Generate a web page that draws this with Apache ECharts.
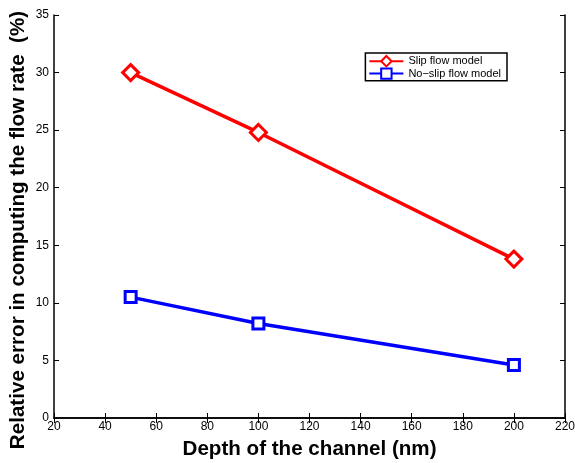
<!DOCTYPE html>
<html><head><meta charset="utf-8">
<script src="https://cdn.jsdelivr.net/npm/echarts@6/dist/echarts.min.js"></script>
<style>html,body{margin:0;padding:0;background:#fff}#c{width:575px;height:463px}</style>
</head><body><div id="c"></div>
<script>
const depth = [50, 100, 200];
const slipError = [30.0, 24.8, 13.8];
const noSlipError = [10.5, 8.2, 4.6];
const seriesNames = ['Slip flow model', 'No\u2212slip flow model'];
const xTitle = 'Depth of the channel (nm)';
const yTitle = 'Relative error in computing the flow rate  (%)';

const F = 'Liberation Sans, Arial, Helvetica, sans-serif';
const axisCommon = {
  axisLine: {show: true, lineStyle: {color: '#000', width: 1.5}},
  axisTick: {show: true, inside: true, length: 5, lineStyle: {color: '#000', width: 1}},
  splitLine: {show: false}
};
const chart = echarts.init(document.getElementById('c'));
chart.setOption({
  animation: false,
  backgroundColor: '#fff',
  grid: {left: 54, right: 10, top: 15, bottom: 45, outerBoundsMode: 'none', containLabel: false},
  legend: {
    right: 68, top: 53, orient: 'vertical',
    backgroundColor: '#fff', borderColor: '#000', borderWidth: 1.5,
    padding: [2, 6, 1, 3], itemGap: 0, itemWidth: 34, itemHeight: 13,
    textStyle: {fontFamily: F, fontSize: 11, color: '#000'},
    data: seriesNames
  },
  xAxis: [
    Object.assign({type: 'value', min: 20, max: 220, interval: 20, position: 'bottom',
      name: xTitle, nameLocation: 'middle', nameGap: 21,
      nameTextStyle: {fontFamily: F, fontSize: 20.6, fontWeight: 'bold', color: '#000'},
      axisLabel: {fontFamily: F, fontSize: 12, color: '#000', margin: 3}}, axisCommon),
    Object.assign({type: 'value', min: 20, max: 220, interval: 20, position: 'top',
      axisLabel: {show: false}}, axisCommon)
  ],
  yAxis: [
    Object.assign({type: 'value', min: 0, max: 35, interval: 5, position: 'left',
      name: yTitle, nameLocation: 'middle', nameGap: 25, nameRotate: 90, nameMoveOverlap: false,
      nameTextStyle: {fontFamily: F, fontSize: 20.6, fontWeight: 'bold', color: '#000', padding: [0, 27, 0, 0]},
      axisLabel: {fontFamily: F, fontSize: 12, color: '#000', margin: 5}}, axisCommon),
    Object.assign({type: 'value', min: 0, max: 35, interval: 5, position: 'right',
      axisLabel: {show: false}}, axisCommon)
  ],
  series: [
    {name: seriesNames[0], type: 'line', data: depth.map((d, i) => [d, slipError[i]]),
     symbol: 'diamond', symbolSize: 16,
     itemStyle: {color: '#fff', borderColor: '#ff0000', borderWidth: 3},
     lineStyle: {color: '#ff0000', width: 3.5}},
    {name: seriesNames[1], type: 'line', data: depth.map((d, i) => [d, noSlipError[i]]),
     symbol: 'rect', symbolSize: 11,
     itemStyle: {color: '#fff', borderColor: '#0000ff', borderWidth: 3},
     lineStyle: {color: '#0000ff', width: 3.5}}
  ]
});
</script></body></html>
